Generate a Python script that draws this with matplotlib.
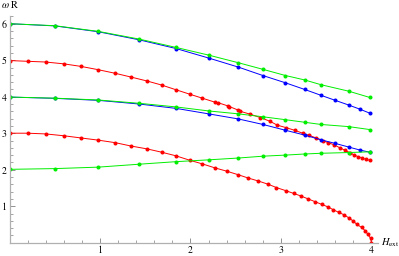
import matplotlib
matplotlib.use('Agg')
import matplotlib.pyplot as plt
from matplotlib.ticker import MultipleLocator

plt.rcParams['mathtext.fontset'] = 'stix'
plt.rcParams['font.family'] = 'STIXGeneral'

# sampled H_ext values and omega*R branches
x_green = [0, 0.5, 0.98, 1.43, 1.84, 2.20, 2.53, 2.80, 3.05, 3.26, 3.44, 3.75, 3.98]
green_top = [6.0, 5.945, 5.79, 5.58, 5.35, 5.14, 4.93, 4.75, 4.58, 4.46, 4.33, 4.15, 3.98]
green_mid = [3.99, 3.96, 3.91, 3.82, 3.72, 3.61, 3.53, 3.45, 3.37, 3.30, 3.24, 3.18, 3.10]
green_low = [2.01, 2.03, 2.07, 2.15, 2.22, 2.27, 2.32, 2.37, 2.40, 2.43, 2.45, 2.47, 2.49]

x_blue = [0, 0.5, 0.98, 1.43, 1.84, 2.20, 2.53, 2.80, 3.05, 3.26, 3.44, 3.60, 3.75, 3.87, 3.98]
blue_top = [6.0, 5.94, 5.78, 5.56, 5.32, 5.06, 4.81, 4.58, 4.38, 4.20, 4.04, 3.90, 3.77, 3.66, 3.55]
blue_mid = [3.99, 3.955, 3.90, 3.80, 3.68, 3.53, 3.39, 3.24, 3.08, 2.95, 2.82, 2.72, 2.62, 2.54, 2.48]

x_red_top = [0, 0.2, 0.4, 0.6, 0.79, 0.98, 1.17, 1.34, 1.52, 1.68, 1.84, 1.99, 2.13,
             2.27, 2.30, 2.41, 2.43, 2.53, 2.55, 2.66, 2.77, 2.875, 2.96, 3.06, 3.15,
             3.24, 3.31, 3.39, 3.46, 3.52, 3.59, 3.65, 3.71, 3.76, 3.81, 3.85, 3.90, 3.94, 3.98]
red_top = [4.99, 4.97, 4.95, 4.90, 4.83, 4.74, 4.64, 4.54, 4.43, 4.32, 4.19, 4.07, 3.96,
           3.85, 3.84, 3.75, 3.73, 3.63, 3.60, 3.52, 3.43, 3.33, 3.22, 3.15, 3.08,
           3.00, 2.94, 2.87, 2.80, 2.74, 2.68, 2.60, 2.53, 2.47, 2.40, 2.36, 2.32, 2.28, 2.26]

x_red_low = [0, 0.2, 0.4, 0.6, 0.79, 0.98, 1.17, 1.34, 1.52, 1.68, 1.84, 1.99, 2.13,
             2.27, 2.40, 2.53, 2.64, 2.75, 2.86, 2.95, 3.06, 3.14, 3.22, 3.30, 3.38,
             3.45, 3.52, 3.58, 3.64, 3.70, 3.75, 3.80, 3.84, 3.89, 3.93, 3.96, 3.99, 4.00]
red_low = [3.0, 3.0, 2.98, 2.93, 2.87, 2.81, 2.74, 2.65, 2.57, 2.48, 2.38, 2.26, 2.16,
           2.05, 1.96, 1.86, 1.77, 1.69, 1.60, 1.51, 1.42, 1.35, 1.28, 1.20, 1.12,
           1.05, 0.98, 0.90, 0.83, 0.76, 0.68, 0.59, 0.50, 0.42, 0.33, 0.23, 0.12, 0.0]

W, H = 399, 256
fig = plt.figure(figsize=(W / 100, H / 100), dpi=100)
x0, x1 = 9.5, 377.8
y0, y1 = 242.7, 16.4
ax = fig.add_axes([x0 / W, (H - y0) / H, (x1 - x0) / W, (y0 - y1) / H])
ax.set_xlim(0, 4.07)
ax.set_ylim(0, 6.2)

style = dict(lw=0.7, marker='o', ms=2.9, mew=0)
ax.plot(x_red_top, red_top, color='#ff0000', **style)
ax.plot(x_red_low, red_low, color='#ff0000', **style)
ax.plot(x_blue, blue_top, color='#0000ff', **style)
ax.plot(x_blue, blue_mid, color='#0000ff', **style)
ax.plot(x_green, green_top, color='#00ee00', **style)
ax.plot(x_green, green_mid, color='#00ee00', **style)
ax.plot(x_green, green_low, color='#00ee00', **style)

for s in ['top', 'right']:
    ax.spines[s].set_visible(False)
for s in ['left', 'bottom']:
    ax.spines[s].set_color('#b0b0b0')
    ax.spines[s].set_linewidth(0.9)

ax.xaxis.set_major_locator(MultipleLocator(1))
ax.xaxis.set_minor_locator(MultipleLocator(0.2))
ax.yaxis.set_major_locator(MultipleLocator(1))
ax.yaxis.set_minor_locator(MultipleLocator(0.2))
ax.set_xticks([1, 2, 3, 4])
ax.set_yticks([1, 2, 3, 4, 5, 6])
ax.tick_params(which='major', direction='in', length=3.5, width=0.6, color='#808080',
               labelsize=7, pad=2)
ax.tick_params(which='minor', direction='in', length=2, width=0.5, color='#808080')

fig.text(1 / W, 1 - 5 / H, r'$\omega$ R', fontsize=7.5, va='center', ha='left')
fig.text(381 / W, 1 - 243 / H, r'$H_{\mathrm{ext}}$', fontsize=7.5, va='center', ha='left')

fig.savefig('out.png', dpi=100)
